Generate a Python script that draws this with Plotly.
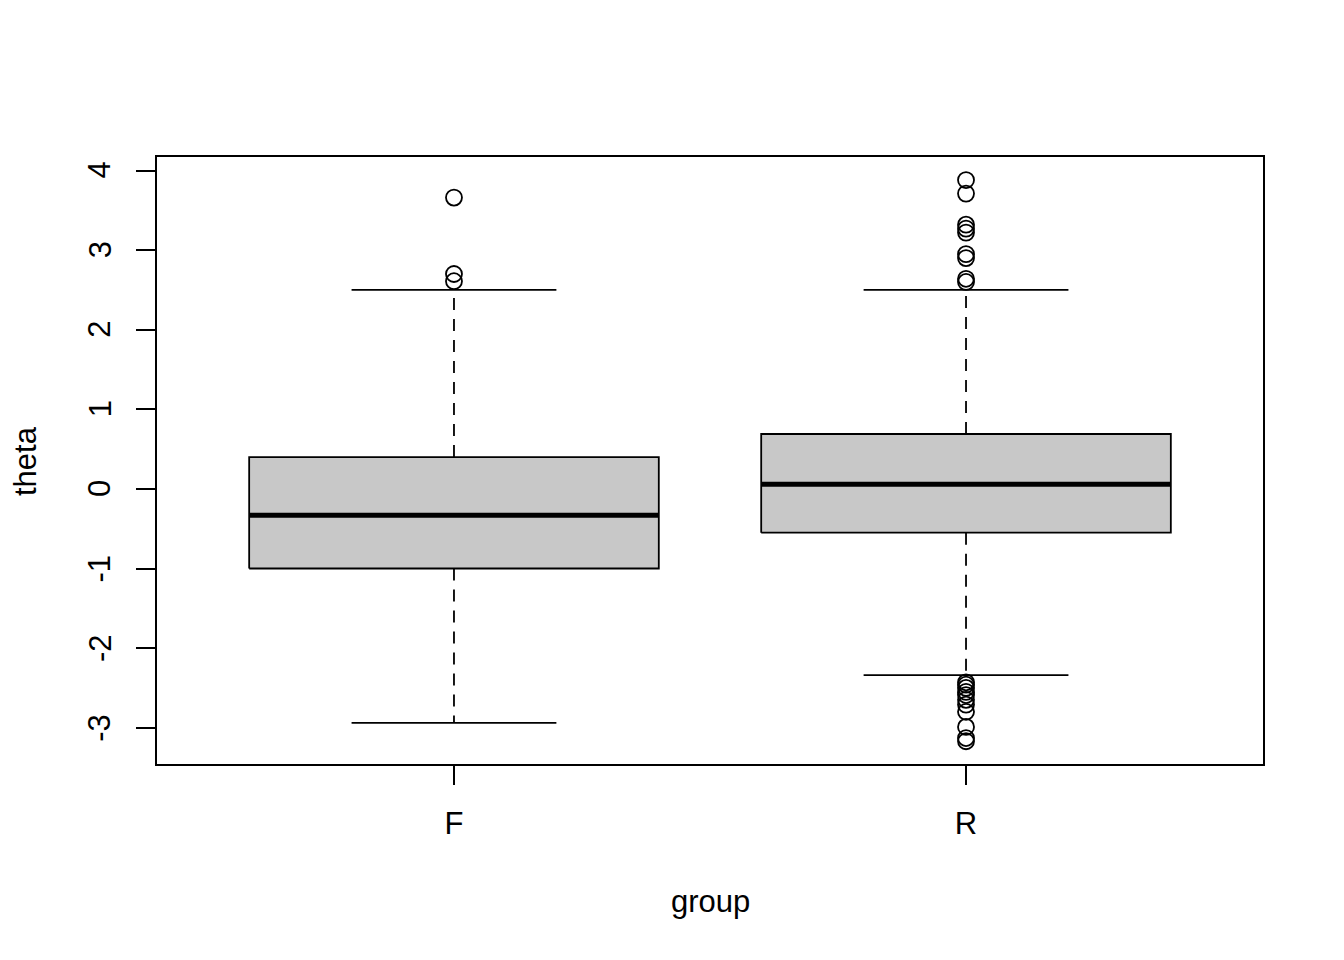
import plotly.graph_objects as go

groups = ["F", "R"]
positions = [1, 2]
q1 = [-1.00, -0.55]
median = [-0.33, 0.06]
q3 = [0.40, 0.69]
lower_whisker = [-2.94, -2.34]
upper_whisker = [2.50, 2.50]
outliers_F = [3.66, 2.70, 2.61]
outliers_R = [3.88, 3.71, 3.32, 3.27, 3.22, 2.95, 2.90, 2.64, 2.60,
              -2.43, -2.46, -2.50, -2.55, -2.59, -2.65, -2.71, -2.80, -2.99, -3.13, -3.17]
y_ticks = [-3, -2, -1, 0, 1, 2, 3, 4]
y_ticktext = ["-3", "-2", "-1", "0", "1", "2", "3", "4"]

BOX_HW = 0.4
CAP_HW = 0.2
FONT = "Liberation Sans, Arial, sans-serif"
FS = 31
LW = 1.8

fig = go.Figure()
for i, p in enumerate(positions):
    for a, b in ((q3[i], upper_whisker[i]), (q1[i], lower_whisker[i])):
        fig.add_trace(go.Scatter(x=[p, p], y=[a, b], mode="lines",
                                 line=dict(color="black", width=LW, dash="12px,9px"),
                                 showlegend=False, hoverinfo="skip"))
    for w in (upper_whisker[i], lower_whisker[i]):
        fig.add_trace(go.Scatter(x=[p - CAP_HW, p + CAP_HW], y=[w, w], mode="lines",
                                 line=dict(color="black", width=LW), showlegend=False, hoverinfo="skip"))
    fig.add_trace(go.Scatter(x=[p - BOX_HW, p + BOX_HW, p + BOX_HW, p - BOX_HW, p - BOX_HW],
                             y=[q1[i], q1[i], q3[i], q3[i], q1[i]], mode="lines", fill="toself",
                             fillcolor="#c8c8c8", line=dict(color="black", width=LW),
                             showlegend=False, hoverinfo="skip"))
    fig.add_trace(go.Scatter(x=[p - BOX_HW, p + BOX_HW], y=[median[i], median[i]], mode="lines",
                             line=dict(color="black", width=5), showlegend=False, hoverinfo="skip"))

for p, vals in zip(positions, [outliers_F, outliers_R]):
    fig.add_trace(go.Scatter(x=[p] * len(vals), y=vals, mode="markers",
                             marker=dict(symbol="circle-open", size=16, color="black", line=dict(width=1.8)),
                             showlegend=False))

# page body has an 8px default margin; compensate so plot area lands at 157..1263 x 157..764
W, H = 1336, 952
ML, MR, MT, MB = 149, 81, 149, 196
fig.update_layout(
    width=W, height=H,
    margin=dict(l=ML, r=MR, t=MT, b=MB),
    plot_bgcolor="white", paper_bgcolor="white",
    font=dict(family=FONT, size=FS, color="black"),
    xaxis=dict(range=[0.42, 2.58], tickvals=positions, ticktext=groups, ticks="outside",
               ticklen=19, tickwidth=LW, tickcolor="black", showgrid=False, zeroline=False,
               showline=True, linecolor="black", linewidth=LW, mirror=True,
               ticklabelstandoff=12),
    yaxis=dict(range=[-3.456, 4.17], tickvals=y_ticks, ticks="outside", showticklabels=False,
               ticklen=19, tickwidth=LW, tickcolor="black", showgrid=False, zeroline=False,
               showline=True, linecolor="black", linewidth=LW, mirror=True),
)
plot_w = W - ML - MR
plot_h = H - MT - MB
for v, t in zip(y_ticks, y_ticktext):
    fig.add_annotation(text=t, xref="paper", yref="y", x=(100 - 157) / plot_w, y=v,
                       xanchor="center", yanchor="middle", showarrow=False, textangle=-90)
fig.add_annotation(text="group", xref="paper", yref="paper", x=(710 - 157) / plot_w,
                   y=(764 - 901) / plot_h, xanchor="center", yanchor="middle", showarrow=False)
fig.add_annotation(text="theta", xref="paper", yref="paper", x=(25 - 157) / plot_w,
                   y=(764 - 461) / plot_h, xanchor="center", yanchor="middle", showarrow=False,
                   textangle=-90)

fig.write_html("out.html")
